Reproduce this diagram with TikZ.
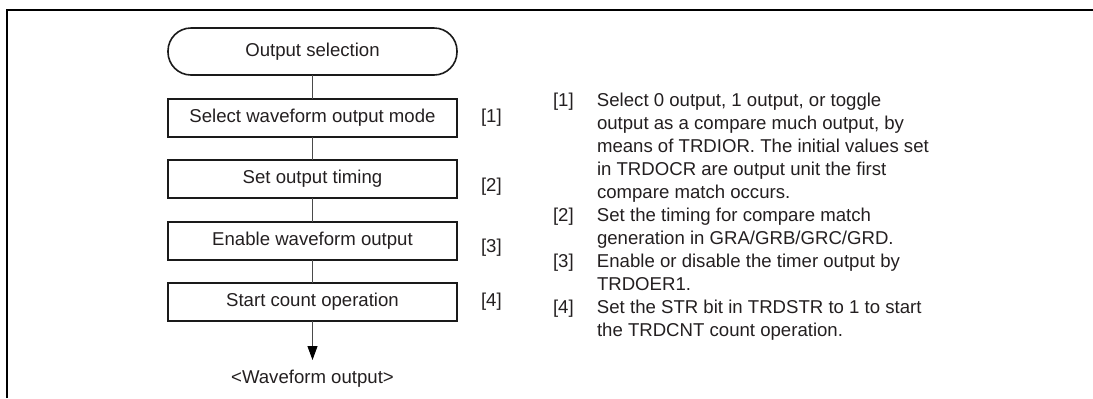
\documentclass[tikz,border=0pt]{standalone}
\usepackage{fontspec}
\setmainfont{Liberation Sans}
\usepackage{xcolor}
\usetikzlibrary{
  positioning,
  arrows.meta,
}
\definecolor{cText}  {HTML}{231F20}
\definecolor{cBorder}{HTML}{1A1A1A}
\definecolor{cLink}  {HTML}{4A4A4A}

\begin{document}
\begin{tikzpicture}[
  font=\fontsize{9.3}{11.25}\selectfont,
  every node/.style={align=center, text=cText},
  %
  termbox/.style={
    draw=cBorder, line width=0.8pt, outer sep=0pt,
    rounded corners=11.5pt, inner sep=2pt,
    minimum width=144.5pt, minimum height=23.5pt,
  },
  stepbox/.style={
    draw=cBorder, line width=1pt, outer sep=0pt,
    inner sep=2pt,
    minimum width=144.5pt, minimum height=19pt,
  },
  steplbl/.style={inner sep=0pt, outer sep=0pt},
  notebox/.style={inner sep=0pt, outer sep=0pt, align=left,
                  font=\fontsize{9.3}{11.5}\selectfont},
  link/.style={line width=0.5pt, draw=cLink},
  arr/.style={link, -{Triangle[length=7pt, width=5pt, color=black]}},
  frame/.style={line width=1pt, draw=black},
]
\useasboundingbox (0,0) rectangle (546.5pt,-199pt);

% ────────────── FRAME ───────────────────────────────────────────────────────
\draw[frame] (3.5pt,-199pt) -- (3.5pt,-5pt) -- (546.5pt,-5pt);

% ────────────── FLOW COLUMN (left) ──────────────────────────────────────────
\node[termbox] (sel) at (156.25pt,-25.75pt) {Output selection};
\node[stepbox, below=11.75pt of sel]  (mode)   {Select waveform output mode};
\node[stepbox, below=11.75pt of mode] (timing) {Set output timing};
\node[stepbox, below=11.75pt of timing] (enable) {Enable waveform output};
\node[stepbox, below=11.75pt of enable] (start) {Start count operation};
\node[steplbl, below=24.5pt of start]  (wout)  {<Waveform output>};

% step numbers beside the boxes
\node[steplbl, right=12pt of mode]                 (n1) {[1]};
\node[steplbl, right=12pt of timing, yshift=-4pt]  (n2) {[2]};
\node[steplbl, right=12pt of enable, yshift=-3.5pt] (n3) {[3]};
\node[steplbl, right=12pt of start]                (n4) {[4]};

% ────────────── CONNECTORS ─────────────────────────────────────────────────
\draw[link] (sel) -- (mode);
\draw[link] (mode) -- (timing);
\draw[link] (timing) -- (enable);
\draw[link] (enable) -- (start);
\draw[arr, shorten >=5pt] (start) -- (wout);

% ────────────── NOTES (right) ───────────────────────────────────────────────
\node[notebox, anchor=north west] (notes) at (276.5pt,-45.25pt) {%
  \begin{tabular}{@{}p{22pt}@{}l@{}}
  {[1]} & Select 0 output, 1 output, or toggle\\
        & output as a compare much output, by\\
        & means of TRDIOR. The initial values set\\
        & in TRDOCR are output unit the first\\
        & compare match occurs.\\
  {[2]} & Set the timing for compare match\\
        & generation in GRA/GRB/GRC/GRD.\\
  {[3]} & Enable or disable the timer output by\\
        & TRDOER1.\\
  {[4]} & Set the STR bit in TRDSTR to 1 to start\\
        & the TRDCNT count operation.
  \end{tabular}};

\end{tikzpicture}
\end{document}
